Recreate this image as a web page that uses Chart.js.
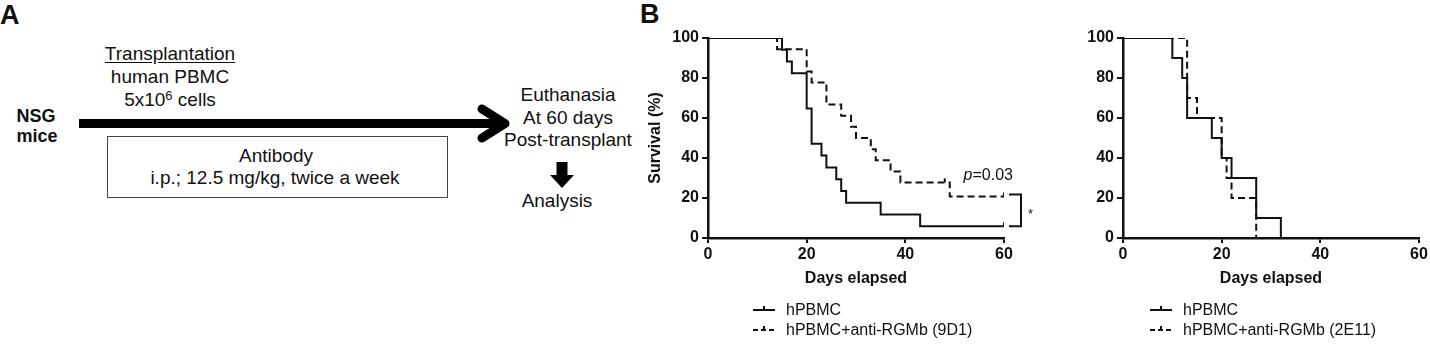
<!DOCTYPE html>
<html>
<head>
<meta charset="utf-8">
<script src="https://cdn.jsdelivr.net/npm/chart.js@4.4.0/dist/chart.umd.min.js"></script>
<style>
  html, body { margin: 0; padding: 0; background: #fff; }
  #page { position: relative; width: 1430px; height: 347px; overflow: hidden;
          font-family: Arial, "Liberation Sans", Helvetica, sans-serif; color: #111; }
  .t { position: absolute; white-space: nowrap; text-align: center; width: 300px;
       font-size: 19px; line-height: 22px; }
  .b { font-weight: bold; font-size: 18px; }
  .panel { position: absolute; font-weight: bold; font-size: 27px; line-height: 30px; }
  sup { font-size: 13px; line-height: 0; vertical-align: 6px; }
  .chart { position: absolute; top: 0; }
</style>
</head>
<body>
<div id="page">
  <div class="panel" style="left:0;top:0;">A</div>
  <div class="panel" style="left:640px;top:-1px;">B</div>

  <svg width="640" height="347" style="position:absolute;left:0;top:0">
    <line x1="79" y1="123.5" x2="503" y2="123.5" stroke="#000" stroke-width="9"/>
    <polyline points="482,109 505,123.5 482,138" fill="none" stroke="#000" stroke-width="9"
              stroke-linecap="round" stroke-linejoin="round"/>
    <rect x="107.5" y="136.5" width="340" height="61" fill="none" stroke="#444" stroke-width="1"/>
    <rect x="556.5" y="162" width="11" height="14" fill="#000"/>
    <polygon points="550,175 574,175 562,188" fill="#000"/>
  </svg>

  <div class="t" style="left:20px;top:43px;text-decoration:underline;text-underline-offset:2px;">Transplantation</div>
  <div class="t" style="left:20px;top:66px;">human PBMC</div>
  <div class="t" style="left:20px;top:89px;">5x10<sup>6</sup> cells</div>
  <div class="t b" style="left:-114px;top:105px;">NSG</div>
  <div class="t b" style="left:-113px;top:125px;">mice</div>
  <div class="t" style="left:126px;top:145px;">Antibody</div>
  <div class="t" style="left:125px;top:167px;">i.p.; 12.5 mg/kg, twice a week</div>
  <div class="t" style="left:418px;top:84px;">Euthanasia</div>
  <div class="t" style="left:418px;top:107px;">At 60 days</div>
  <div class="t" style="left:418px;top:129px;">Post-transplant</div>
  <div class="t" style="left:407px;top:190px;">Analysis</div>

  <div class="chart" style="left:640px;"><canvas id="km1" width="420" height="347"></canvas></div>
  <div class="chart" style="left:1080px;"><canvas id="km2" width="350" height="347"></canvas></div>
</div>

<script>
// Kaplan-Meier steps: day of each step and survival (%) after it
const days9D1Ctrl = [0, 15, 16, 17, 20, 21, 23, 24, 26, 27, 28, 35, 43, 60];
const surv9D1Ctrl = [100, 94.1, 88.2, 82.4, 64.7, 47.1, 41.2, 35.3, 29.4, 23.5, 17.6, 11.8, 5.9, 5.9];
const days9D1Ab = [0, 14, 20, 21, 24, 27, 29, 30, 33, 34, 37, 39, 49, 60];
const surv9D1Ab = [100, 94.4, 83.3, 77.8, 66.7, 61.1, 55.6, 50, 44.4, 38.9, 33.3, 27.8, 20.8, 20.8];

// censored observations (tick marks)
const cens9D1CtrlDays = [60];
const cens9D1CtrlSurv = [5.9];
const cens9D1AbDays = [48, 60];
const cens9D1AbSurv = [27.8, 20.8];

const days2E11Ctrl = [0, 10, 12, 13, 18, 20, 22, 27, 32];
const surv2E11Ctrl = [100, 90, 80, 60, 50, 40, 30, 10, 0];
const days2E11Ab = [0, 13, 15, 20, 21, 22, 27];
const surv2E11Ab = [100, 70, 60, 40, 30, 20, 0];

const xTicksMax = 60;
const yTicksMax = 100;
const pValueText = "=0.03";

const FONT = 'Arial, "Liberation Sans", Helvetica, sans-serif';
const INK = "#111";
Chart.defaults.font.family = FONT;
Chart.defaults.color = INK;

function toPoints(days, surv) {
  return days.map((d, i) => ({ x: d, y: surv[i] }));
}

function curve(label, days, surv, dashed) {
  return {
    type: "line",
    label: label,
    data: toPoints(days, surv),
    stepped: "before",
    borderColor: INK,
    borderWidth: 2,
    borderDash: dashed ? [7, 4] : [],
    pointRadius: 0,
    fill: false,
  };
}

function censored(days, surv) {
  return {
    type: "scatter",
    data: toPoints(days, surv),
    pointStyle: "dash",
    rotation: -90,
    pointRadius: 4,
    borderColor: INK,
    borderWidth: 2,
    showLine: false,
  };
}

const kmExtras = {
  id: "kmExtras",
  afterDraw(chart, args, opts) {
    const ctx = chart.ctx;
    const area = chart.chartArea;
    const xs = chart.scales.x;
    const ys = chart.scales.y;
    ctx.save();

    // legend under the plot
    let row = 0;
    chart.data.datasets.forEach((ds) => {
      if (!ds.label) return;
      const lx = area.left + opts.legendLeft;
      const ly = area.bottom + opts.legendTop + row * 20;
      ctx.strokeStyle = INK;
      ctx.lineWidth = 2;
      ctx.setLineDash(ds.borderDash.length ? [5, 3] : []);
      ctx.beginPath();
      ctx.moveTo(lx, ly);
      ctx.lineTo(lx + 22, ly);
      ctx.stroke();
      ctx.setLineDash([]);
      ctx.beginPath();
      ctx.moveTo(lx + 11, ly);
      ctx.lineTo(lx + 11, ly - 4);
      ctx.stroke();
      ctx.fillStyle = INK;
      ctx.font = "16px " + FONT;
      ctx.textBaseline = "middle";
      ctx.textAlign = "left";
      ctx.fillText(ds.label, lx + 33, ly + 1);
      row++;
    });

    // significance bracket and p value
    if (opts.bracket) {
      const b = opts.bracket;
      const x0 = xs.getPixelForValue(b.x);
      const yTop = ys.getPixelForValue(b.top);
      const yBot = ys.getPixelForValue(b.bottom);
      ctx.lineWidth = 2;
      ctx.beginPath();
      ctx.moveTo(x0 + 5, yTop - 2);
      ctx.lineTo(x0 + 17, yTop - 2);
      ctx.lineTo(x0 + 17, yBot);
      ctx.lineTo(x0 + 5, yBot);
      ctx.stroke();
      ctx.font = "13px " + FONT;
      ctx.textAlign = "left";
      ctx.textBaseline = "middle";
      ctx.fillText("*", x0 + 24, (yTop + yBot) / 2 + 3);

      const px = xs.getPixelForValue(b.pX);
      const py = ys.getPixelForValue(b.pY);
      ctx.font = "italic 16px " + FONT;
      ctx.fillText("p", px, py);
      const w = ctx.measureText("p").width;
      ctx.font = "16px " + FONT;
      ctx.fillText(pValueText, px + w, py);
    }
    ctx.restore();
  },
};

function axis(max, step, tickLen, fitSize, horizontal, titleText, titlePad) {
  return {
    type: "linear",
    min: 0,
    max: max,
    ticks: { stepSize: step, color: INK, font: { size: 16, weight: "bold" }, padding: horizontal ? 2 : 3 },
    grid: { drawOnChartArea: false, drawTicks: true, tickLength: tickLen, color: INK, lineWidth: 2 },
    border: { display: true, color: INK, width: 2.5 },
    title: {
      display: !!titleText,
      text: titleText || "",
      color: INK,
      font: { size: 16, weight: "bold" },
      padding: titlePad,
    },
    afterFit(scale) {
      if (horizontal) scale.height = fitSize;
      else scale.width = fitSize;
    },
  };
}

function makeChart(id, datasets, yWidth, yTitle, padRight, extras) {
  return new Chart(document.getElementById(id), {
    type: "line",
    data: { datasets: datasets },
    options: {
      responsive: false,
      animation: false,
      layout: { padding: { left: 0, top: 38, right: padRight, bottom: 59 } },
      scales: {
        x: axis(xTicksMax, 20, 5, 50, true, "Days elapsed", { top: 0, bottom: 0 }),
        y: axis(yTicksMax, 20, 6, yWidth, false, yTitle, { top: 6, bottom: 0 }),
      },
      plugins: { legend: { display: false }, tooltip: { enabled: false }, kmExtras: extras },
    },
    plugins: [kmExtras],
  });
}

makeChart("km1", [
  curve("hPBMC", days9D1Ctrl, surv9D1Ctrl, false),
  curve("hPBMC+anti-RGMb (9D1)", days9D1Ab, surv9D1Ab, true),
  censored(cens9D1CtrlDays, cens9D1CtrlSurv),
  censored(cens9D1AbDays, cens9D1AbSurv),
], 68, "Survival (%)", 56, {
  legendLeft: 45, legendTop: 72,
  bracket: { x: 60, top: 20.8, bottom: 5.9, pX: 51.8, pY: 31 },
});

makeChart("km2", [
  curve("hPBMC", days2E11Ctrl, surv2E11Ctrl, false),
  curve("hPBMC+anti-RGMb (2E11)", days2E11Ab, surv2E11Ab, true),
], 43, null, 11, { legendLeft: 27, legendTop: 72 });
</script>
</body>
</html>
